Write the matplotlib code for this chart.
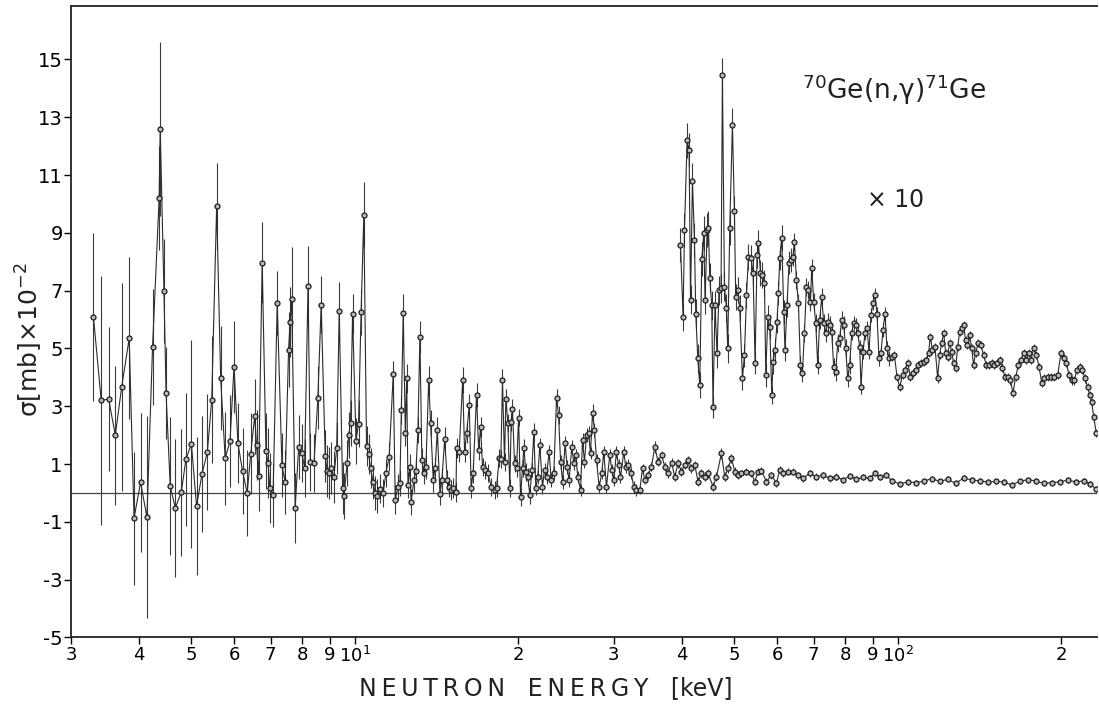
import matplotlib
matplotlib.use('Agg')
import matplotlib.pyplot as plt

plt.rcParams['font.family'] = ['DejaVu Sans']
plt.rcParams['mathtext.default'] = 'regular'
plt.rcParams['axes.unicode_minus'] = False

# capture cross section 70Ge(n,g)71Ge, sigma in units of 1e-2 mb, energy in keV
# well separated points below 11 keV
e_low = [3.30, 3.41, 3.52, 3.62, 3.72, 3.84, 3.92, 4.03, 4.14, 4.24,
         4.36, 4.38, 4.45, 4.49, 4.57, 4.67, 4.79, 4.885, 5.00, 5.11,
         5.23, 5.35, 5.45, 5.565, 5.66, 5.77, 5.89, 5.99, 6.09, 6.21,
         6.335, 6.43, 6.54, 6.59, 6.65, 6.75, 6.86, 6.92, 6.975, 7.07,
         7.195, 7.34, 7.44, 7.55, 7.60, 7.65, 7.765, 7.88, 7.99, 8.08,
         8.20, 8.28, 8.41, 8.55, 8.67, 8.82, 8.89, 8.97, 9.05, 9.15,
         9.26, 9.36, 9.495, 9.55, 9.68, 9.74, 9.82, 9.905, 10.05, 10.16,
         10.27, 10.39, 10.51, 10.60, 10.69, 10.81, 10.90, 10.97]
s_low = [6.09, 3.2, 3.25, 2.0, 3.67, 5.35, -0.87, 0.37, -0.84, 5.05,
         10.2, 12.6, 7.0, 3.45, 0.24, -0.52, 0.03, 1.17, 1.7, -0.45,
         0.66, 1.42, 3.22, 9.93, 3.98, 1.2, 1.8, 4.36, 1.73, 0.76,
         0.0, 1.35, 2.66, 1.66, 0.59, 7.96, 1.45, 1.04, 0.17, -0.07,
         6.58, 0.97, 0.38, 4.95, 5.92, 6.7, -0.52, 1.6, 1.38, 0.87,
         7.16, 1.08, 1.03, 3.3, 6.52, 1.28, 0.77, 0.69, 0.85, 0.55,
         1.55, 6.3, 0.17, -0.1, 1.03, 2.0, 2.43, 6.2, 1.8, 2.4,
         6.27, 9.62, 1.63, 1.35, 0.86, 0.38, 0.0, -0.1]
d_low = [2.9, 4.3, 2.5, 2.4, 3.6, 2.8, 2.3, 2.4, 3.5, 2.0,
         1.8, 3.0, 1.8, 1.6, 2.4, 2.4, 2.2, 2.3, 3.6, 2.4,
         2.0, 2.0, 2.2, 1.5, 1.8, 1.6, 1.6, 1.6, 1.4, 1.5,
         1.5, 1.4, 1.3, 1.2, 1.2, 1.4, 1.3, 1.2, 1.2, 1.1,
         1.1, 1.1, 1.1, 1.3, 1.2, 1.8, 1.2, 1.1, 1.0, 1.0,
         1.4, 1.0, 1.0, 1.1, 1.0, 0.9, 0.9, 0.9, 0.9, 0.9,
         0.9, 1.0, 0.9, 0.8, 0.8, 0.8, 0.8, 0.7, 0.8, 0.8,
         0.8, 1.15, 0.7, 0.7, 0.7, 0.6, 0.6, 0.6]

# 11 - 33 keV
e_mid = [11.12, 11.28, 11.41, 11.57, 11.77, 11.87, 12.01, 12.11, 12.18, 12.28,
         12.39, 12.46, 12.53, 12.63, 12.70, 12.85, 12.96, 13.07, 13.18, 13.29,
         13.41, 13.52, 13.68, 13.79, 13.95, 14.06, 14.19, 14.35, 14.47, 14.64,
         14.80, 14.93, 15.05, 15.18, 15.36, 15.40, 15.57, 15.80, 15.93, 16.07,
         16.25, 16.38, 16.52, 16.76, 16.91, 17.05, 17.19, 17.39, 17.59, 17.83,
         18.09, 18.24, 18.45, 18.58, 18.71, 18.87, 18.98, 19.14, 19.30, 19.41,
         19.52, 19.69, 19.86, 20.03, 20.20, 20.37, 20.48, 20.66, 20.83, 21.01,
         21.19, 21.37, 21.55, 21.73, 21.92, 22.17, 22.36, 22.55, 22.80, 23.00,
         23.26, 23.53, 23.73, 23.94, 24.15, 24.40, 24.61, 24.82, 25.10, 25.32,
         25.53, 25.75, 26.05, 26.27, 26.49, 26.72, 26.95, 27.18, 27.41, 27.64,
         27.88, 28.19, 28.51, 28.75, 29.08, 29.49, 29.75, 30.00, 30.34, 30.61,
         30.86, 31.30, 31.56, 31.93, 32.29, 32.65, 33.03]
s_mid = [0.14, 0.0, 0.69, 1.25, 4.12, -0.24, 0.21, 0.35, 2.87, 6.24,
         2.07, 3.97, 0.28, 0.9, -0.3, 0.45, 0.76, 2.18, 5.4, 1.14,
         0.7, 0.9, 3.9, 2.42, 0.45, 0.86, 2.18, -0.03, 0.45, 1.87,
         0.45, 0.21, 0.1, 0.17, 0.03, 1.55, 1.42, 3.9, 1.42, 2.07,
         3.04, 0.17, 0.69, 3.39, 1.49, 2.28, 0.9, 0.8, 0.69, 0.21,
         0.1, 0.17, 1.21, 1.17, 3.9, 1.07, 3.25, 2.42, 0.17, 2.46,
         2.9, 1.03, 0.86, 2.6, -0.14, 0.86, 1.55, 0.73, 0.55, -0.07,
         0.8, 2.11, 0.17, 0.55, 1.66, 0.21, 0.8, 0.55, 1.42, 0.45,
         0.69, 3.29, 2.7, 1.07, 0.38, 1.73, 0.9, 0.45, 1.59, 1.03,
         1.31, 0.55, 0.1, 1.83, 1.07, 2.0, 2.07, 1.38, 2.77, 2.18,
         1.14, 0.21, 0.69, 1.42, 0.21, 1.31, 0.8, 0.45, 1.42, 0.97,
         0.55, 1.42, 0.9, 0.97, 0.69, 0.21, 0.1]
d_mid = [0.5, 0.5, 0.5, 0.5, 0.45, 0.5, 0.45, 0.45, 0.5, 0.65,
         0.45, 0.5, 0.45, 0.45, 0.45, 0.4, 0.4, 0.45, 0.55, 0.4,
         0.4, 0.4, 0.5, 0.45, 0.4, 0.4, 0.45, 0.4, 0.4, 0.4,
         0.35, 0.35, 0.35, 0.35, 0.35, 0.35, 0.35, 0.45, 0.35, 0.35,
         0.4, 0.35, 0.35, 0.4, 0.35, 0.35, 0.3, 0.3, 0.3, 0.3,
         0.3, 0.3, 0.3, 0.3, 0.4, 0.3, 0.35, 0.3, 0.3, 0.3,
         0.35, 0.3, 0.3, 0.3, 0.3, 0.3, 0.3, 0.3, 0.3, 0.3,
         0.25, 0.3, 0.25, 0.25, 0.25, 0.25, 0.25, 0.25, 0.25, 0.25,
         0.25, 0.3, 0.3, 0.25, 0.25, 0.25, 0.25, 0.25, 0.25, 0.25,
         0.2, 0.2, 0.2, 0.25, 0.2, 0.25, 0.25, 0.2, 0.3, 0.25,
         0.2, 0.2, 0.2, 0.2, 0.2, 0.2, 0.2, 0.2, 0.2, 0.2,
         0.2, 0.2, 0.2, 0.2, 0.2, 0.2, 0.2]

# 33 - 233 keV
e_high = [33.49, 33.89, 34.21, 34.70, 35.20, 35.70, 36.20, 36.73, 37.25, 37.77,
          38.32, 38.86, 39.40, 39.98, 40.54, 41.11, 41.71, 42.29, 42.89, 43.51,
          44.13, 44.75, 45.71, 46.37, 47.36, 48.03, 48.70, 49.42, 50.11, 50.82,
          51.56, 52.67, 53.79, 54.56, 55.32, 56.12, 57.33, 58.55, 59.81, 60.65,
          61.51, 62.83, 64.16, 65.55, 66.95, 68.88, 70.87, 72.87, 74.97, 77.14,
          79.33, 81.61, 83.96, 86.34, 88.83, 90.73, 92.68, 95.35, 97.54, 100.9,
          104.4, 108.0, 111.7, 115.6, 119.5, 123.6, 127.9, 132.3, 136.9, 141.6,
          146.5, 152.1, 156.8, 162.2, 167.8, 173.6, 179.6, 185.8, 192.2, 198.9,
          205.7, 212.8, 220.1, 225.8, 231.6]
s_high = [0.1, 0.85, 0.45, 0.62, 0.91, 1.6, 1.08, 1.31, 0.91, 0.68,
          1.05, 0.56, 1.03, 0.74, 0.97, 1.14, 0.85, 0.97, 0.39, 0.68,
          0.56, 0.68, 0.22, 0.56, 1.37, 0.56, 0.85, 1.2, 0.74, 0.62,
          0.68, 0.74, 0.68, 0.39, 0.74, 0.77, 0.39, 0.62, 0.34, 0.8,
          0.68, 0.74, 0.74, 0.62, 0.51, 0.68, 0.56, 0.62, 0.51, 0.56,
          0.45, 0.59, 0.47, 0.54, 0.51, 0.68, 0.54, 0.62, 0.42, 0.31,
          0.38, 0.36, 0.40, 0.50, 0.40, 0.47, 0.33, 0.52, 0.45, 0.42,
          0.38, 0.40, 0.38, 0.28, 0.40, 0.46, 0.42, 0.33, 0.36, 0.38,
          0.45, 0.38, 0.42, 0.32, 0.15]
d_high = [0.15, 0.15, 0.15, 0.15, 0.15, 0.2, 0.15, 0.15, 0.15, 0.15,
          0.15, 0.15, 0.15, 0.15, 0.15, 0.15, 0.15, 0.15, 0.15, 0.15,
          0.15, 0.15, 0.15, 0.15, 0.2, 0.15, 0.15, 0.15, 0.15, 0.15,
          0.12, 0.12, 0.12, 0.12, 0.12, 0.12, 0.12, 0.12, 0.12, 0.12,
          0.12, 0.12, 0.12, 0.12, 0.12, 0.12, 0.12, 0.12, 0.12, 0.12,
          0.1, 0.1, 0.1, 0.1, 0.1, 0.1, 0.1, 0.1, 0.1, 0.1,
          0.1, 0.1, 0.1, 0.1, 0.1, 0.1, 0.1, 0.1, 0.1, 0.1,
          0.1, 0.1, 0.1, 0.1, 0.1, 0.1, 0.1, 0.1, 0.1, 0.1,
          0.1, 0.1, 0.1, 0.1, 0.1]

# same data above 40 keV, multiplied by 10
e_x10 = [39.81, 40.25, 40.49, 40.94, 41.29, 41.54, 41.88, 42.24, 42.47, 42.84,
         43.20, 43.57, 43.94, 44.19, 44.57, 44.83, 45.07, 45.45, 45.70, 46.09,
         46.48, 46.88, 47.28, 47.56, 47.97, 48.37, 48.64, 49.06, 49.62, 50.04,
         50.32, 50.75, 51.18, 51.78, 52.22, 52.67, 53.11, 53.71, 54.17, 54.63,
         55.09, 55.42, 55.89, 56.37, 56.85, 57.16, 57.65, 58.14, 58.63, 58.95,
         59.46, 59.96, 60.31, 60.65, 61.17, 61.69, 62.02, 62.55, 63.08, 63.62,
         64.16, 64.54, 65.10, 65.65, 66.21, 66.78, 67.34, 67.92, 68.50, 69.08,
         69.47, 70.06, 70.65, 71.26, 71.86, 72.47, 73.09, 73.71, 74.34, 74.97,
         75.61, 76.25, 76.90, 77.55, 78.21, 78.88, 79.55, 80.23, 80.91, 81.61,
         82.30, 83.00, 83.71, 84.42, 85.14, 85.61, 86.34, 87.08, 87.82, 88.57,
         89.32, 90.08, 90.85, 91.62, 92.40, 93.19, 93.98, 94.78, 95.59, 96.41,
         97.52, 98.64, 99.76, 100.9, 102.1, 103.2, 104.4, 105.6, 106.8, 108.0,
         109.2, 110.4, 111.7, 113.0, 114.0, 114.9, 115.9, 117.2, 118.5, 119.5,
         120.5, 121.6, 122.6, 123.6, 124.7, 125.8, 126.8, 127.9, 129.0, 130.1,
         131.2, 132.3, 133.4, 134.5, 135.7, 136.9, 138.0, 139.2, 140.8, 142.4,
         144.0, 145.7, 147.3, 149.1, 150.8, 152.4, 154.2, 156.0, 157.7, 159.5,
         161.4, 163.1, 165.0, 166.9, 168.8, 170.7, 172.7, 174.6, 176.1, 178.1,
         180.2, 182.2, 184.3, 186.4, 189.0, 191.7, 194.4, 197.2, 200.0, 202.3,
         204.6, 206.9, 209.2, 211.6, 214.0, 216.5, 218.9, 221.4, 223.9, 225.8,
         227.8, 229.7, 232.3]
s_x10 = [8.58, 6.09, 9.1, 12.2, 11.87, 6.68, 10.8, 8.75, 6.2, 4.66,
         3.74, 8.1, 8.98, 6.68, 9.1, 9.17, 7.44, 6.5, 2.98, 6.5,
         4.84, 7.02, 7.09, 14.46, 7.13, 6.4, 5.0, 9.17, 12.73, 9.76,
         6.78, 7.02, 6.4, 3.97, 4.77, 6.85, 8.17, 8.13, 7.6, 4.5,
         8.24, 8.65, 7.6, 7.54, 7.27, 4.08, 6.09, 5.74, 3.39, 4.53,
         4.95, 5.92, 6.92, 8.13, 8.82, 6.26, 4.95, 6.5, 7.96, 8.06,
         8.17, 8.69, 7.37, 6.57, 4.43, 4.15, 5.54, 7.13, 7.02, 6.61,
         7.79, 6.61, 5.88, 4.43, 5.99, 6.78, 5.88, 5.54, 5.92, 5.81,
         5.57, 4.36, 4.19, 5.19, 5.36, 5.99, 5.81, 5.02, 3.97, 4.43,
         5.54, 5.88, 5.81, 5.54, 5.05, 3.67, 4.88, 5.54, 5.7, 4.88,
         6.16, 6.57, 6.85, 6.2, 4.66, 4.84, 5.64, 6.2, 5.02, 4.66,
         4.7, 4.77, 4.01, 3.67, 4.08, 4.26, 4.5, 4.01, 4.15, 4.26,
         4.43, 4.5, 4.53, 4.6, 4.84, 5.4, 4.95, 5.05, 3.97, 4.77,
         5.19, 5.54, 4.84, 4.7, 5.19, 4.88, 4.5, 4.33, 5.05, 5.57,
         5.7, 5.81, 5.29, 5.12, 5.47, 5.02, 4.43, 4.84, 5.19, 5.12,
         4.77, 4.43, 4.43, 4.5, 4.43, 4.5, 4.6, 4.33, 4.01, 4.01,
         3.9, 3.46, 4.01, 4.43, 4.6, 4.84, 4.6, 4.84, 4.6, 5.02,
         4.77, 4.36, 3.81, 3.97, 4.01, 4.01, 4.01, 4.08, 4.84, 4.66,
         4.5, 4.08, 3.9, 3.9, 4.26, 4.36, 4.26, 3.97, 3.67, 3.39,
         3.15, 2.63, 2.07]
d_x10 = [0.6, 0.5, 0.6, 0.6, 0.6, 0.5, 0.6, 0.6, 0.5, 0.5,
         0.45, 0.6, 0.6, 0.5, 0.6, 0.6, 0.5, 0.5, 0.4, 0.5,
         0.5, 0.5, 0.5, 0.6, 0.5, 0.5, 0.5, 0.6, 0.6, 0.5,
         0.45, 0.45, 0.45, 0.4, 0.4, 0.45, 0.45, 0.45, 0.45, 0.4,
         0.45, 0.45, 0.45, 0.45, 0.45, 0.4, 0.4, 0.4, 0.3, 0.4,
         0.4, 0.4, 0.4, 0.4, 0.45, 0.4, 0.4, 0.4, 0.4, 0.4,
         0.3, 0.3, 0.3, 0.3, 0.3, 0.3, 0.3, 0.3, 0.3, 0.3,
         0.3, 0.3, 0.3, 0.3, 0.3, 0.3, 0.3, 0.3, 0.3, 0.3,
         0.3, 0.3, 0.3, 0.3, 0.3, 0.3, 0.3, 0.3, 0.3, 0.3,
         0.25, 0.25, 0.25, 0.25, 0.25, 0.25, 0.25, 0.25, 0.25, 0.25,
         0.25, 0.25, 0.25, 0.25, 0.25, 0.25, 0.25, 0.25, 0.25, 0.25,
         0.15, 0.15, 0.15, 0.15, 0.15, 0.15, 0.15, 0.15, 0.15, 0.15,
         0.15, 0.15, 0.15, 0.15, 0.15, 0.15, 0.15, 0.15, 0.15, 0.15,
         0.15, 0.15, 0.15, 0.15, 0.15, 0.15, 0.15, 0.15, 0.15, 0.15,
         0.15, 0.15, 0.15, 0.15, 0.15, 0.15, 0.15, 0.15, 0.15, 0.15,
         0.15, 0.15, 0.15, 0.15, 0.15, 0.15, 0.15, 0.15, 0.15, 0.15,
         0.15, 0.15, 0.15, 0.15, 0.15, 0.15, 0.15, 0.15, 0.15, 0.15,
         0.15, 0.15, 0.15, 0.15, 0.15, 0.15, 0.15, 0.15, 0.15, 0.15,
         0.15, 0.15, 0.15, 0.15, 0.15, 0.15, 0.15, 0.15, 0.15, 0.15,
         0.15, 0.15, 0.15]

xticks = [3, 4, 5, 6, 7, 8, 9, 10, 20, 30, 40, 50, 60, 70, 80, 90, 100, 200]
xticklabels = ['3', '4', '5', '6', '7', '8', '9', r'$10^1$', '2', '3', '4',
               '5', '6', '7', '8', '9', r'$10^2$', '2']
yticks = [-5, -3, -1, 1, 3, 5, 7, 9, 11, 13, 15]

fig = plt.figure(figsize=(10.99, 7.04), dpi=100)
ax = fig.add_axes([0.0646, 0.0945, 0.9336, 0.897])

ink = '#2b2b2b'
style = dict(fmt='-o', color=ink, lw=0.8, ms=3.6, mfc='#b8b8b8', mec='#1e1e1e',
             mew=0.9, ecolor='#3a3a3a', elinewidth=0.8, capsize=0)

e_main = e_low + e_mid + e_high
s_main = s_low + s_mid + s_high
d_main = d_low + d_mid + d_high
ax.errorbar(e_main, s_main, yerr=d_main, **style)
ax.errorbar(e_x10, s_x10, yerr=d_x10, **style)
ax.axhline(0, color='#444444', lw=0.9, zorder=0)

ax.set_xscale('log')
ax.set_xlim(3.0, 233)
ax.set_ylim(-5, 16.85)
ax.set_xticks(xticks)
ax.set_xticklabels(xticklabels)
ax.xaxis.set_minor_locator(matplotlib.ticker.NullLocator())
ax.set_yticks(yticks)

ax.tick_params(axis='x', direction='out', length=5, width=1, labelsize=13, pad=1)
ax.tick_params(axis='y', direction='out', length=5, width=1, labelsize=14, pad=1)
for side in ['left', 'bottom', 'top']:
    ax.spines[side].set_linewidth(1.3)
    ax.spines[side].set_color('#222222')
ax.spines['right'].set_visible(False)

word1 = '\u2009'.join('NEUTRON')
word2 = '\u2009'.join('ENERGY')
fig.text(0.497, 0.022, word1 + '   ' + word2 + '   [keV]', ha='center', va='center',
         fontsize=17, color='#222222')
fig.text(0.027, 0.517, r'$\sigma$[mb]$\times$10$^{-2}$', rotation=90,
         ha='center', va='center', fontsize=18, color='#222222')

ax.text(0.814, 0.872, r'$^{70}$Ge(n,$\gamma$)$^{71}$Ge', transform=fig.transFigure,
        ha='center', va='center', fontsize=19, color='#222222')
ax.text(0.815, 0.716, '× 10', transform=fig.transFigure,
        ha='center', va='center', fontsize=17, color='#222222')

fig.savefig('out.png', dpi=100)
